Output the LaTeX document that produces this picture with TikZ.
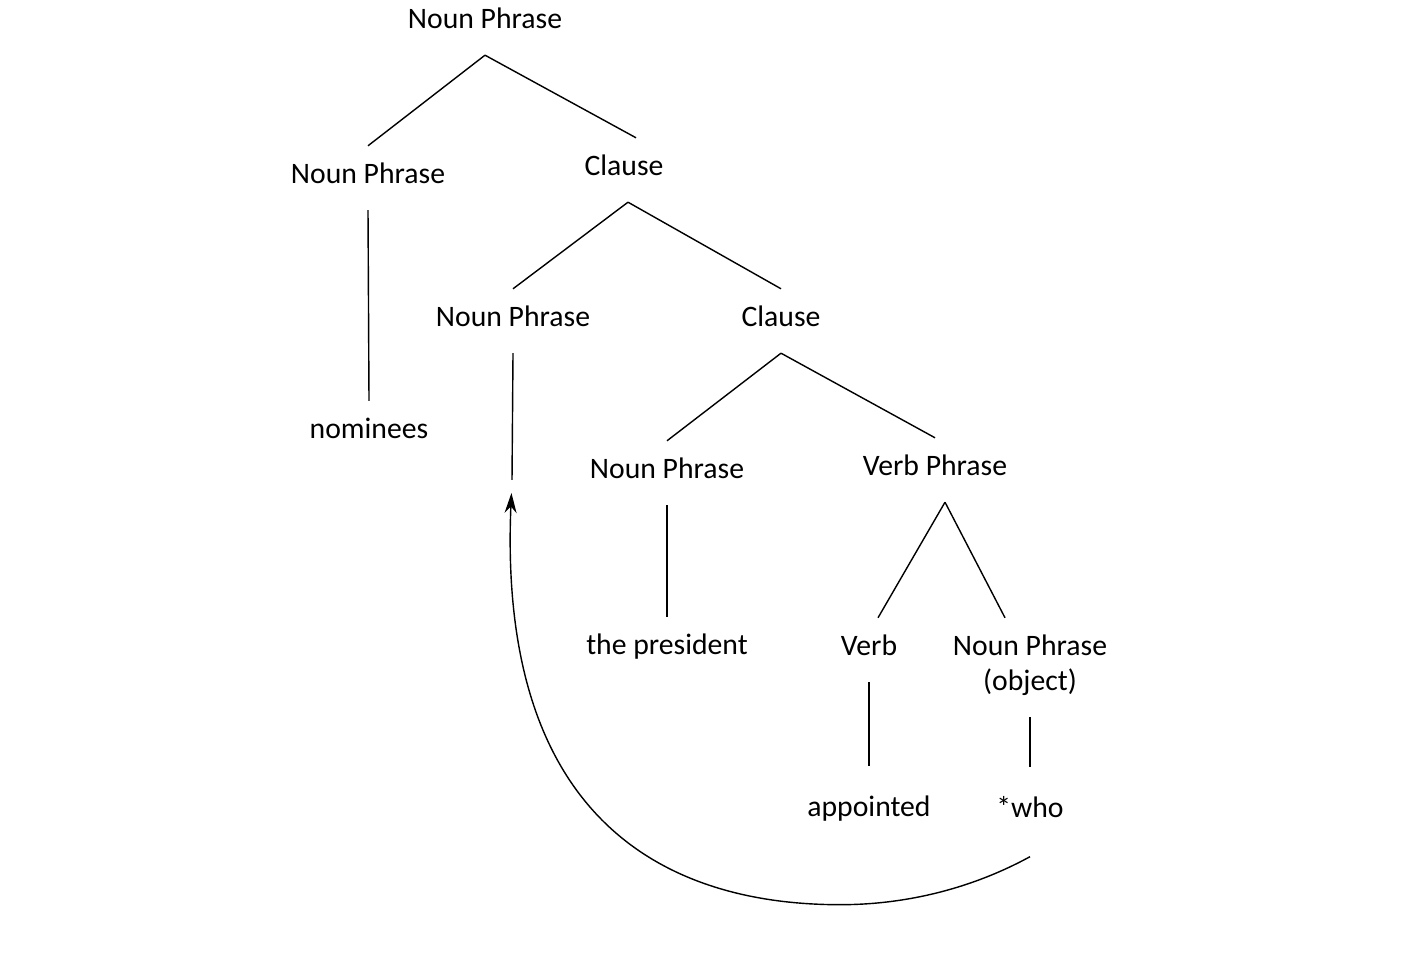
\documentclass[tikz,border=0pt]{standalone}
\usepackage{fontspec}
\setmainfont{Carlito}
\usetikzlibrary{arrows.meta}

\begin{document}
\begin{tikzpicture}[line width=0.4pt,>={Stealth[length=2mm,width=1.2mm]},
  lbl/.style={font=\fontsize{8.45}{10}\selectfont,text height=1.9mm,text depth=0.7mm,
    inner xsep=0pt,inner ysep=1.85mm},
  leaf/.style={lbl,inner ysep=3.1mm}]
  \useasboundingbox (0,0) rectangle (14.09,9.76);
  \node[lbl] (np0) at (4.85,9.53) {Noun Phrase};
  \node[lbl] (np1) at (3.68,7.98) {Noun Phrase};
  \node[lbl] (cl1) at (6.24,8.06) {Clause};
  \node[lbl] (nom) at (3.69,5.43) {nominees};
  \node[lbl] (np2) at (5.13,6.55) {Noun Phrase};
  \node[lbl] (cl2) at (7.81,6.55) {Clause};
  \node[lbl] (np3) at (6.67,5.03) {Noun Phrase};
  \node[lbl] (vp) at (9.35,5.06) {Verb Phrase};
  \node[lbl] (pres) at (6.67,3.27) {the president};
  \node[lbl] (verb) at (8.69,3.26) {Verb};
  \node[lbl,align=center,text height=5.4mm,anchor=base] (obj) at (10.30,2.85) {Noun Phrase\\(object)};
  \node[leaf] (app) at (8.69,1.65) {appointed};
  \node[leaf] (who) at (10.30,1.64) {*who};
  \coordinate (trace) at (5.12,4.96);
  % tree
  \draw (np0.south) -- (np1.north);
  \draw (np0.south) -- ([xshift=1.2mm]cl1.north);
  \draw (np1.south) -- (nom.north);
  \draw ([xshift=0.4mm]cl1.south) -- (np2.north);
  \draw ([xshift=0.4mm]cl1.south) -- (cl2.north);
  \draw (np2.south) -- (trace);
  \draw (cl2.south) -- (np3.north);
  \draw (cl2.south) -- (vp.north);
  \draw (np3.south) -- (pres.north);
  \draw ([xshift=1mm]vp.south) -- ([xshift=0.9mm]verb.north);
  \draw ([xshift=1mm]vp.south) -- ([xshift=-2.5mm]obj.north);
  \draw (verb.south) -- (app.north);
  \draw (obj.south) -- (who.north);
  % movement
  \draw[->,shorten >=1.3mm] (who.south) .. controls +(-0.55,-0.30) and +(0.70,0) .. ++(-1.90,-0.48)
    .. controls +(-1.60,0) and +(-0.15,-3.53) .. (trace);
\end{tikzpicture}
\end{document}
